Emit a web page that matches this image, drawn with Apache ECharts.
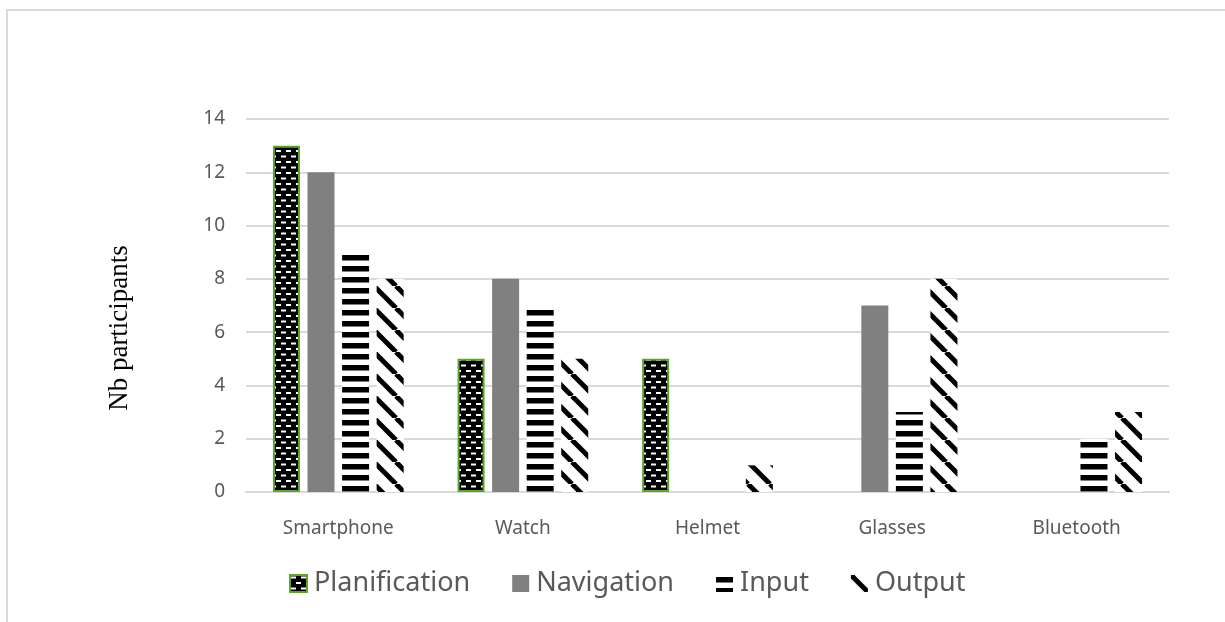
<!DOCTYPE html>
<html>
<head>
<meta charset="utf-8">
<script src="https://cdn.jsdelivr.net/npm/echarts@6/dist/echarts.min.js"></script>
<style>
  html, body { margin: 0; padding: 0; background: #fff; }
  #chart { width: 1225px; height: 622px; }
</style>
</head>
<body>
<div id="chart"></div>
<script>
// Devices and the number of participants per usage
const categories = ['Smartphone', 'Watch', 'Helmet', 'Glasses', 'Bluetooth'];
const planification = [13, 5, 5, null, null];
const navigation = [12, 8, 0, 7, 0];
const input = [9, 7, 0, 3, 2];
const output = [8, 5, 1, 8, 3];
const seriesNames = ['Planification', 'Navigation', 'Input', 'Output'];
const yTicks = { min: 0, max: 14, interval: 2 };
const yTitle = 'Nb participants';

// Fill patterns
function makeTile(w, h, draw) {
  const c = document.createElement('canvas');
  c.width = w; c.height = h;
  const ctx = c.getContext('2d');
  draw(ctx, w, h);
  return c;
}
// black background with small white dashes in a brick layout
const brickTile = makeTile(10, 11, (ctx, w, h) => {
  ctx.fillStyle = '#000';
  ctx.fillRect(0, 0, w, h);
  ctx.fillStyle = '#fff';
  ctx.fillRect(1, 1.5, 5, 2);
  ctx.fillRect(6, 7, 5, 2);
  ctx.fillRect(-4, 7, 5, 2);
});
// horizontal black stripes
const stripeTile = makeTile(8, 11, (ctx, w, h) => {
  ctx.fillStyle = '#fff';
  ctx.fillRect(0, 0, w, h);
  ctx.fillStyle = '#000';
  ctx.fillRect(0, 2, w, 5.5);
});
// wide downward diagonal
const diagTile = makeTile(22, 22, (ctx, w, h) => {
  ctx.fillStyle = '#fff';
  ctx.fillRect(0, 0, w, h);
  ctx.strokeStyle = '#000';
  ctx.lineWidth = 5;
  for (const k of [-w, 0, w]) {
    ctx.beginPath();
    ctx.moveTo(k, 0);
    ctx.lineTo(k + w, h);
    ctx.stroke();
  }
});

const chart = echarts.init(document.getElementById('chart'), null, { renderer: 'canvas' });

const labelColor = '#595959';
const gridColor = '#d9d9d9';

chart.setOption({
  animation: false,
  backgroundColor: '#fff',
  graphic: [
    {
      type: 'rect',
      shape: { x: 7, y: 10, width: 1400, height: 800 },
      style: { fill: 'none', stroke: gridColor, lineWidth: 2 },
      silent: true,
      z: -1
    },
    {
      type: 'text',
      x: 120,
      y: 328,
      rotation: Math.PI / 2,
      style: {
        text: yTitle,
        fontFamily: 'Liberation Serif',
        fontSize: 27,
        fill: '#000',
        align: 'center',
        verticalAlign: 'middle'
      },
      silent: true
    }
  ],
  grid: { left: 246, right: 56, top: 119, bottom: 130, containLabel: false },
  legend: {
    bottom: 20,
    left: 284,
    icon: 'rect',
    itemWidth: 17,
    itemHeight: 17,
    itemGap: 42,
    textStyle: { fontFamily: 'Noto Sans', fontSize: 27, color: labelColor, padding: [0, 0, 0, 2] },
    data: seriesNames
  },
  xAxis: {
    type: 'category',
    data: categories,
    axisLine: { lineStyle: { color: gridColor, width: 2 } },
    axisTick: { show: false },
    axisLabel: { fontFamily: 'Noto Sans', fontSize: 19, color: labelColor, margin: 27 }
  },
  yAxis: {
    type: 'value',
    min: yTicks.min,
    max: yTicks.max,
    interval: yTicks.interval,
    axisLine: { show: false },
    axisTick: { show: false },
    axisLabel: { fontFamily: 'Noto Sans', fontSize: 19, color: labelColor, margin: 21 },
    splitLine: { lineStyle: { color: gridColor, width: 2 } }
  },
  series: [
    {
      name: seriesNames[0], type: 'bar', data: planification,
      barWidth: 27, barGap: '28%',
      itemStyle: { color: { image: brickTile, repeat: 'repeat' }, borderColor: '#5ea32f', borderWidth: 2 }
    },
    {
      name: seriesNames[1], type: 'bar', data: navigation,
      barWidth: 27, barGap: '28%',
      itemStyle: { color: '#808080' }
    },
    {
      name: seriesNames[2], type: 'bar', data: input,
      barWidth: 27, barGap: '28%',
      itemStyle: { color: { image: stripeTile, repeat: 'repeat' } }
    },
    {
      name: seriesNames[3], type: 'bar', data: output,
      barWidth: 27, barGap: '28%',
      itemStyle: { color: { image: diagTile, repeat: 'repeat' } }
    }
  ]
});
</script>
</body>
</html>
